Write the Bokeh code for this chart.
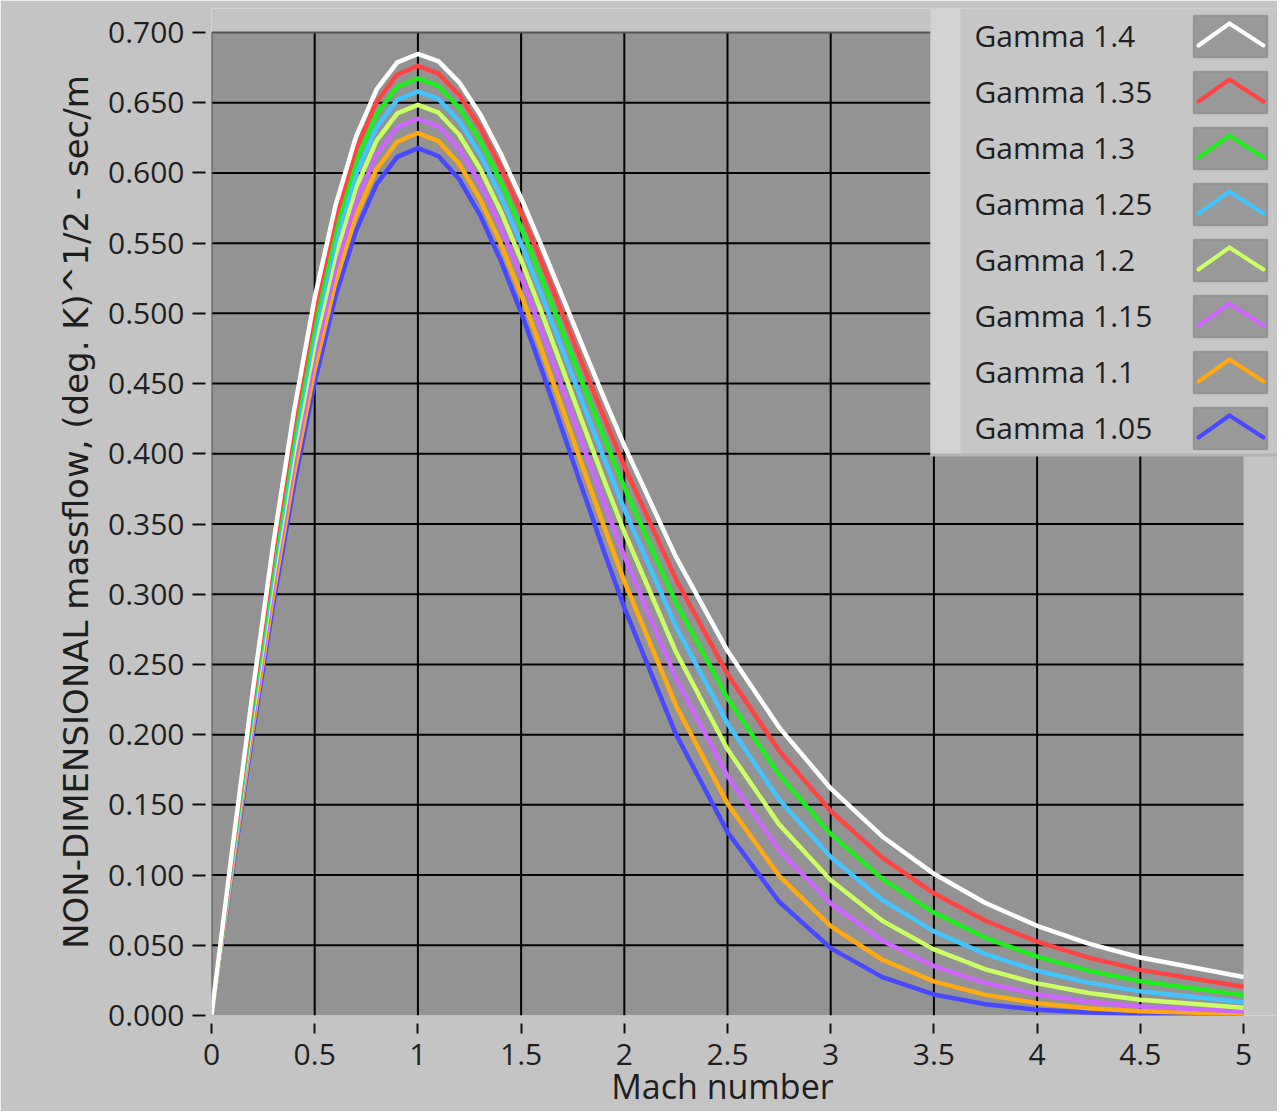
from bokeh.plotting import figure
from bokeh.models import (FixedTicker, Label, BoxAnnotation, Arrow, Range1d)
from bokeh.embed import file_html
from bokeh.resources import INLINE

# ---------------- data ----------------
mach = [0, 0.1, 0.2, 0.3, 0.4, 0.5, 0.6, 0.7, 0.8, 0.9, 1.0, 1.1, 1.2, 1.3, 1.4, 1.5,
        1.6, 1.7, 1.8, 1.9, 2.0, 2.25, 2.5, 2.75, 3.0, 3.25, 3.5, 3.75, 4.0, 4.25, 4.5, 5.0]

flow_g140 = [0, 0.1176, 0.2311, 0.3365, 0.4306, 0.5111, 0.5763, 0.6257, 0.6595, 0.6787, 0.6847,
             0.6794, 0.6645, 0.6422, 0.6142, 0.5822, 0.5477, 0.5119, 0.4759, 0.4403, 0.4058,
             0.3266, 0.2597, 0.2052, 0.1617, 0.1275, 0.1009, 0.0801, 0.0639, 0.0512, 0.0413, 0.0274]
flow_g135 = [0, 0.1155, 0.2270, 0.3308, 0.4236, 0.5032, 0.5679, 0.6170, 0.6508, 0.6701, 0.6762,
             0.6707, 0.6557, 0.6329, 0.6044, 0.5718, 0.5365, 0.4999, 0.4630, 0.4266, 0.3913,
             0.3107, 0.2431, 0.1885, 0.1456, 0.1124, 0.0870, 0.0675, 0.0526, 0.0412, 0.0325, 0.0205]
flow_g130 = [0, 0.1134, 0.2229, 0.3249, 0.4164, 0.4951, 0.5592, 0.6081, 0.6419, 0.6612, 0.6673,
             0.6618, 0.6465, 0.6234, 0.5943, 0.5610, 0.5249, 0.4874, 0.4496, 0.4124, 0.3763,
             0.2942, 0.2259, 0.1714, 0.1293, 0.0973, 0.0733, 0.0553, 0.0419, 0.0319, 0.0244, 0.0145]
flow_g125 = [0, 0.1112, 0.2186, 0.3189, 0.4091, 0.4867, 0.5503, 0.5989, 0.6326, 0.6520, 0.6581,
             0.6525, 0.6370, 0.6136, 0.5839, 0.5498, 0.5129, 0.4744, 0.4357, 0.3975, 0.3606,
             0.2770, 0.2080, 0.1539, 0.1128, 0.0823, 0.0599, 0.0437, 0.0319, 0.0234, 0.0172, 0.0095]
flow_g120 = [0, 0.1089, 0.2143, 0.3128, 0.4016, 0.4782, 0.5411, 0.5894, 0.6230, 0.6424, 0.6485,
             0.6429, 0.6272, 0.6033, 0.5731, 0.5382, 0.5003, 0.4610, 0.4212, 0.3821, 0.3443,
             0.2590, 0.1896, 0.1361, 0.0963, 0.0675, 0.0471, 0.0328, 0.0229, 0.0160, 0.0112, 0.0056]
flow_g115 = [0, 0.1067, 0.2099, 0.3066, 0.3938, 0.4694, 0.5312, 0.5796, 0.6131, 0.6325, 0.6386,
             0.6330, 0.6171, 0.5927, 0.5618, 0.5261, 0.4873, 0.4469, 0.4061, 0.3659, 0.3272,
             0.2403, 0.1705, 0.1178, 0.0798, 0.0533, 0.0352, 0.0231, 0.0151, 0.0098, 0.0064, 0.0028]
flow_g110 = [0, 0.1043, 0.2054, 0.3002, 0.3859, 0.4603, 0.5218, 0.5694, 0.6028, 0.6222, 0.6284,
             0.6226, 0.6065, 0.5817, 0.5502, 0.5136, 0.4738, 0.4322, 0.3902, 0.3490, 0.3093,
             0.2208, 0.1509, 0.0994, 0.0636, 0.0397, 0.0243, 0.0147, 0.0088, 0.0052, 0.0031, 0.0011]
flow_g105 = [0, 0.1020, 0.2008, 0.2936, 0.3777, 0.4509, 0.5117, 0.5588, 0.5921, 0.6114, 0.6177,
             0.6119, 0.5955, 0.5703, 0.5381, 0.5006, 0.4596, 0.4168, 0.3736, 0.3312, 0.2905,
             0.2004, 0.1306, 0.0810, 0.0480, 0.0273, 0.0150, 0.0080, 0.0041, 0.0021, 0.0010, 0.0002]

series_labels = ["Gamma 1.4", "Gamma 1.35", "Gamma 1.3", "Gamma 1.25",
                 "Gamma 1.2", "Gamma 1.15", "Gamma 1.1", "Gamma 1.05"]
series_values = [flow_g140, flow_g135, flow_g130, flow_g125,
                 flow_g120, flow_g115, flow_g110, flow_g105]
series_colors = ["#ffffff", "#ff4444", "#1eee1e", "#44c4ff",
                 "#ccff66", "#cc66ff", "#ffaa11", "#4848ff"]

x_ticks = [0, 0.5, 1, 1.5, 2, 2.5, 3, 3.5, 4, 4.5, 5]
x_tick_labels = ["0", "0.5", "1", "1.5", "2", "2.5", "3", "3.5", "4", "4.5", "5"]
y_ticks = [0, 0.05, 0.1, 0.15, 0.2, 0.25, 0.3, 0.35, 0.4, 0.45, 0.5, 0.55, 0.6, 0.65, 0.7]
y_tick_labels = ["0.000", "0.050", "0.100", "0.150", "0.200", "0.250", "0.300", "0.350",
                 "0.400", "0.450", "0.500", "0.550", "0.600", "0.650", "0.700"]

x_title = "Mach number"
y_title = "NON-DIMENSIONAL massflow, (deg. K)^1/2 - sec/m"

FONT = "Open Sans"
TEXT = "#1e1e1e"
PANEL = "#c4c4c4"

# ---------------- geometry of the canvas ----------------
W, H = 1277, 1111
LEFT, TOP, BOTTOM = 211, 8, 1015          # frame edges (frame runs to the right edge)
PLOT_RIGHT, PLOT_TOP = 1243, 32            # edges of the dark plot area
x0, x1 = x_ticks[0], x_ticks[-1]
y0, y1 = y_ticks[0], y_ticks[-1]
px_x = (PLOT_RIGHT - LEFT) / (x1 - x0)
px_y = (BOTTOM - PLOT_TOP) / (y1 - y0)
x_end = x0 + (W - LEFT) / px_x
y_end = y0 + (BOTTOM - TOP) / px_y

p = figure(width=W, height=H, output_backend="svg", toolbar_location=None, title=None,
           x_range=Range1d(x0, x_end), y_range=Range1d(y0, y_end),
           min_border_left=LEFT, min_border_right=0, min_border_top=TOP,
           min_border_bottom=H - BOTTOM)

p.background_fill_color = PANEL
p.border_fill_color = PANEL
p.outline_line_color = None
p.xgrid.visible = False
p.ygrid.visible = False

# ---------------- axes ----------------
for ax in (p.xaxis[0], p.yaxis[0]):
    ax.axis_line_color = None
    ax.minor_tick_line_color = None
    ax.major_tick_line_color = "#111111"
    ax.major_tick_line_width = 2
    ax.major_label_text_font = FONT
    ax.major_label_text_font_size = "30px"
    ax.major_label_text_color = TEXT
    ax.axis_label_text_font_style = "normal"
    ax.axis_label_text_color = TEXT

xa = p.xaxis[0]
xa.bounds = (x0, x1)
xa.ticker = FixedTicker(ticks=x_ticks)
xa.major_label_overrides = {t: s for t, s in zip(x_ticks, x_tick_labels)}
xa.major_tick_in = -8
xa.major_tick_out = 18
xa.major_label_standoff = 10
# the frame runs under the legend to the right edge; pad the title so it
# stays centred under the plot area
xa.axis_label = x_title + "     "
xa.axis_label_text_font = FONT
xa.axis_label_text_font_size = "34px"
xa.axis_label_standoff = -5

ya = p.yaxis[0]
ya.bounds = (y0, y1)
ya.ticker = FixedTicker(ticks=y_ticks)
ya.major_label_overrides = {t: s for t, s in zip(y_ticks, y_tick_labels)}
ya.major_tick_in = -6
ya.major_tick_out = 19
ya.major_label_standoff = 8
ya.axis_label = y_title
ya.axis_label_text_font = "DejaVu Sans"
ya.axis_label_text_font_size = "34px"
ya.axis_label_standoff = 9

# ---------------- plot area ----------------
p.quad(left=[x0], right=[x1], bottom=[y0], top=[y1], fill_color="#939393", line_color=None)

inner_x = x_ticks[1:-1]
inner_y = y_ticks[1:-1]
p.segment(x0=inner_x, y0=[y0] * len(inner_x), x1=inner_x, y1=[y1] * len(inner_x),
          line_color="#000000", line_width=2)
p.segment(x0=[x0] * len(inner_y), y0=inner_y, x1=[x1] * len(inner_y), y1=inner_y,
          line_color="#000000", line_width=2)
# dark edge on the left and top of the plot area
p.segment(x0=[x0, x0], y0=[y0, y1], x1=[x0, x1], y1=[y1, y1],
          line_color="#555555", line_width=2)

# curves: lowest gamma first so the white curve ends on top
for vals, col in reversed(list(zip(series_values, series_colors))):
    p.line(mach, vals, line_color=col, line_width=4.5, line_join="round")

# ---------------- legend panel (canvas units) ----------------
def cbox(l, r, t, b, **kw):
    return BoxAnnotation(left=l, right=r, top=t, bottom=b,
                         left_units="canvas", right_units="canvas",
                         top_units="canvas", bottom_units="canvas", **kw)

p.add_layout(cbox(930, W, TOP, 455, fill_color="#c6c6c6", fill_alpha=1, line_color=None))
p.add_layout(cbox(930, 960, TOP, 455, fill_color="#d2d2d2", fill_alpha=1, line_color=None))
p.add_layout(cbox(930, W, 453, 456, fill_color="#b4b4b4", fill_alpha=1, line_color=None))

for i, (lab, col) in enumerate(zip(series_labels, series_colors)):
    top = 15 + 56 * i
    p.add_layout(Label(x=974, y=top + 20, x_units="canvas", y_units="canvas", text=lab,
                       text_font=FONT, text_font_size="30px", text_color=TEXT,
                       text_baseline="alphabetic", text_align="left"))
    p.add_layout(cbox(1193, 1267, top, top + 42, fill_color="#999999", fill_alpha=1,
                      line_color="#5a5a5a", line_width=1.5))
    for (xs, ys, xe, ye) in ((1198, top + 30, 1229, top + 8), (1229, top + 8, 1263, top + 30)):
        p.add_layout(Arrow(end=None, x_start=xs, y_start=ys, x_end=xe, y_end=ye,
                           start_units="canvas", end_units="canvas",
                           line_color=col, line_width=4, line_cap="round"))

open("out.html", "w").write(file_html(p, INLINE))
